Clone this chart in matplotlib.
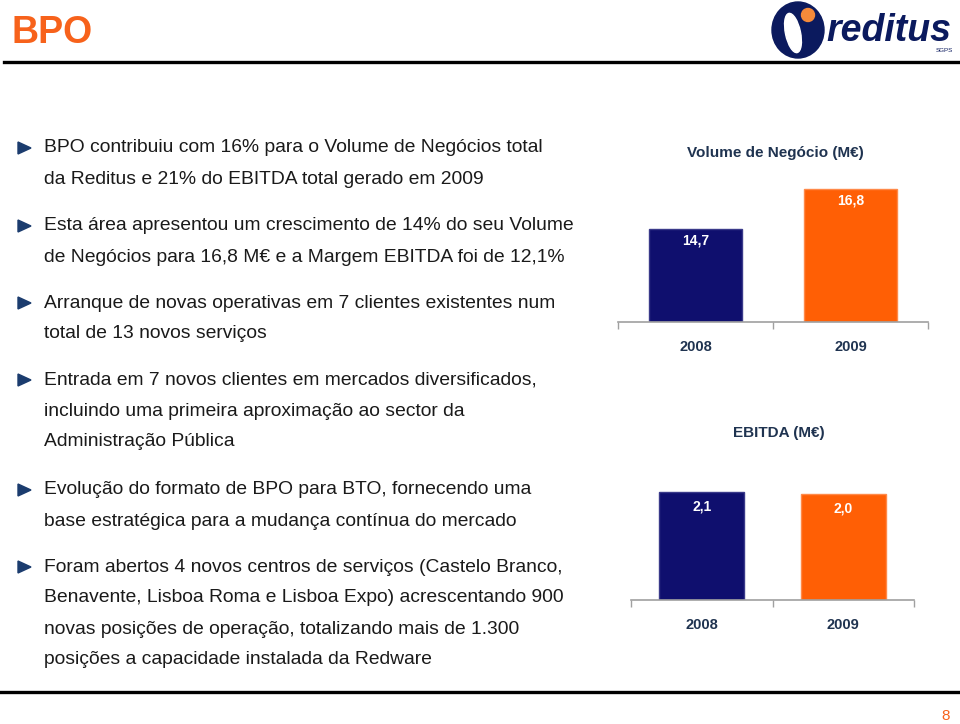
import matplotlib
matplotlib.use("Agg")
import matplotlib.pyplot as plt
from matplotlib.patches import Ellipse, Circle, Polygon
from matplotlib.lines import Line2D

plt.rcParams['font.family'] = ['Liberation Sans', 'DejaVu Sans']

# ---- data ----
years = ["2008", "2009"]
volume = [14.7, 16.8]
ebitda = [2.1, 2.0]
volume_labels = ["14,7", "16,8"]
ebitda_labels = ["2,1", "2,0"]
bullets = [
    ["BPO contribuiu com 16% para o Volume de Negócios total",
     "da Reditus e 21% do EBITDA total gerado em 2009"],
    ["Esta área apresentou um crescimento de 14% do seu Volume",
     "de Negócios para 16,8 M€ e a Margem EBITDA foi de 12,1%"],
    ["Arranque de novas operativas em 7 clientes existentes num",
     "total de 13 novos serviços"],
    ["Entrada em 7 novos clientes em mercados diversificados,",
     "incluindo uma primeira aproximação ao sector da",
     "Administração Pública"],
    ["Evolução do formato de BPO para BTO, fornecendo uma",
     "base estratégica para a mudança contínua do mercado"],
    ["Foram abertos 4 novos centros de serviços (Castelo Branco,",
     "Benavente, Lisboa Roma e Lisboa Expo) acrescentando 900",
     "novas posições de operação, totalizando mais de 1.300",
     "posições a capacidade instalada da Redware"],
]
bullet_y = [148, 226, 303, 380, 490, 567]

W, H = 960, 724
NAVY = "#0f0f6e"
ORANGE = "#ff5f05"
TXT = "#1a1a1a"
TITLE_C = "#1f3350"

fig = plt.figure(figsize=(W / 100, H / 100), dpi=100)
fig.patch.set_facecolor("white")

# overlay axes in pixel coordinates
ov = fig.add_axes([0, 0, 1, 1])
ov.set_xlim(0, W)
ov.set_ylim(H, 0)
ov.axis("off")

# title and rules
ov.text(11, 33, "BPO", color="#f7621b", fontsize=27, fontweight="bold", va="center", ha="left")
ov.add_line(Line2D([4, 958], [62, 62], color="black", lw=2.4))
ov.add_line(Line2D([0, 960], [692, 692], color="black", lw=2.4))
ov.text(946, 716, "8", color="#f7621b", fontsize=11, ha="center", va="center")

# logo
ov.add_patch(Ellipse((798, 30), 52, 56, color="#0b1a5e"))
ov.add_patch(Ellipse((793, 33), 15, 40, angle=-12, color="white"))
ov.add_patch(Circle((808, 15), 6.5, color="#f58a3a"))
ov.text(826, 31, "reditus", color="#0b1a5e", fontsize=27, fontweight="bold",
        fontstyle="italic", ha="left", va="center")
ov.text(944, 50, "SGPS", color="#0b1a5e", fontsize=4.5, ha="center", va="center")

# bullets
line_gap = 31
for lines, y0 in zip(bullets, bullet_y):
    ov.add_patch(Polygon([[18, y0 - 6], [18, y0 + 6], [31, y0]], closed=True,
                         color="#1b3c6e"))
    for i, ln in enumerate(lines):
        ov.text(44, y0 + i * line_gap, ln, color=TXT, fontsize=13.9,
                ha="left", va="center")


def px_axes(left, right, top, bottom):
    return fig.add_axes([left / W, 1 - bottom / H, (right - left) / W, (bottom - top) / H])


def bar_chart(ax, values, labels, colors, ylim, title, title_xy, label_off):
    x = list(range(len(values)))
    base = ylim[0]
    bars = ax.bar(x, [v - base for v in values], bottom=base, width=0.6, color=colors,
                  edgecolor=["#3a3a8a", "#ff8a4a"], linewidth=1.0, zorder=3)
    ax.set_xlim(-0.5, len(values) - 0.5)
    ax.set_ylim(*ylim)
    for s in ["top", "right", "left"]:
        ax.spines[s].set_visible(False)
    ax.spines["bottom"].set_color("#a0a0a0")
    ax.spines["bottom"].set_linewidth(1.2)
    ax.spines["bottom"].set_zorder(4)
    ax.set_yticks([])
    ax.set_xticks([-0.5, 0.5, 1.5])
    ax.set_xticklabels([])
    ax.tick_params(axis="x", which="major", length=5, color="#a0a0a0", width=1)
    ax.set_xticks(x, minor=True)
    ax.set_xticklabels(years, minor=True, fontsize=10.5, fontweight="bold", color=TITLE_C)
    ax.tick_params(axis="x", which="minor", length=0, pad=13)
    ax.patch.set_alpha(0)
    for xi, v, lab in zip(x, values, labels):
        ax.annotate(lab, (xi, v),
                    xytext=(0, label_off), textcoords="offset points",
                    ha="center", va="center", color="white", fontsize=10,
                    fontweight="bold", zorder=5)
    ov.text(title_xy[0], title_xy[1], title, color=TITLE_C, fontsize=11,
            fontweight="bold", ha="center", va="center")


ax1 = px_axes(618, 928, 180, 322)
bar_chart(ax1, volume, volume_labels, [NAVY, ORANGE], (9.82, 9.82 + 142 / 19.05),
          "Volume de Negócio (M€)", (775, 153), -8)

ax2 = px_axes(631, 914, 470, 600)
bar_chart(ax2, ebitda, ebitda_labels, [NAVY, ORANGE], (-3.3, -3.3 + 130 / 20.0),
          "EBITDA (M€)", (779, 433), -10.5)

fig.savefig("out.png", dpi=100)
